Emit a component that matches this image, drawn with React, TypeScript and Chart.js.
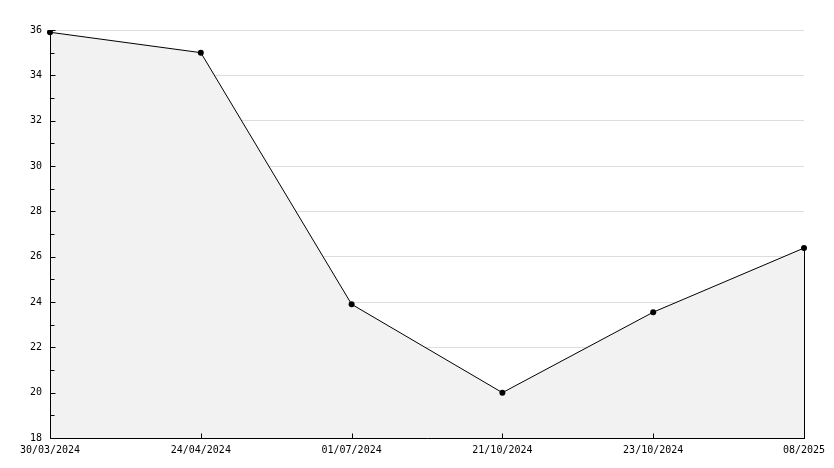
import React, { useEffect, useRef } from "react";
import { Chart, registerables } from "chart.js";

Chart.register(...registerables);

const categories: string[] = ["30/03/2024", "24/04/2024", "01/07/2024", "21/10/2024", "23/10/2024", "08/2025"];
const values: number[] = [35.9, 35.0, 23.9, 20.0, 23.55, 26.38];
const yMin = 18;
const yMax = 36;
const yStep = 2;

const FONT = "'DejaVu Sans Mono', monospace";

const extras = {
  id: "extras",
  afterDatasetsDraw(chart: any) {
    const ctx = chart.ctx;
    const area = chart.chartArea;
    const y = chart.scales.y;
    const x = chart.scales.x;
    const meta = chart.getDatasetMeta(0);
    ctx.save();
    ctx.strokeStyle = "#000";
    ctx.lineWidth = 1;
    const left = Math.round(area.left) + 0.5;
    const bottom = Math.round(area.bottom) + 0.5;
    // axis lines
    ctx.beginPath();
    ctx.moveTo(left, Math.round(area.top));
    ctx.lineTo(left, bottom);
    ctx.lineTo(Math.round(area.right) + 1, bottom);
    ctx.stroke();
    // vertical edge of fill at last point
    const last = meta.data[meta.data.length - 1];
    if (last) {
      const lx = Math.round(last.x) + 0.5;
      ctx.beginPath();
      ctx.moveTo(lx, last.y);
      ctx.lineTo(lx, bottom);
      ctx.stroke();
    }
    // inner ticks on y axis (major and minor)
    for (let v = yMin; v <= yMax; v += 1) {
      const py = Math.round(y.getPixelForValue(v)) + 0.5;
      const len = (v - yMin) % yStep === 0 ? 5 : 4;
      ctx.beginPath();
      ctx.moveTo(left, py);
      ctx.lineTo(left + len, py);
      ctx.stroke();
    }
    // inner ticks on x axis
    for (let i = 0; i < categories.length; i++) {
      const px = Math.round(x.getPixelForValue(i)) + 0.5;
      ctx.beginPath();
      ctx.moveTo(px, bottom);
      ctx.lineTo(px, bottom - 5);
      ctx.stroke();
    }
    ctx.restore();
  },
};

export default function App() {
  const ref = useRef<HTMLCanvasElement | null>(null);
  useEffect(() => {
    document.body.style.margin = "0";
    const canvas = ref.current;
    if (!canvas) return;
    const chart = new Chart(canvas, {
      type: "line",
      data: {
        labels: categories,
        datasets: [
          {
            data: values,
            borderColor: "#000",
            borderWidth: 1,
            backgroundColor: "#f2f2f2",
            fill: "start",
            tension: 0,
            pointRadius: 3,
            pointBackgroundColor: "#000",
            pointBorderColor: "#000",
            pointBorderWidth: 0,
          },
        ],
      },
      options: {
        responsive: false,
        animation: false,
        devicePixelRatio: 1,
        layout: { padding: { left: 0, top: 30, right: 30, bottom: 0 } },
        plugins: { legend: { display: false }, tooltip: { enabled: false }, title: { display: false } },
        scales: {
          x: {
            type: "category",
            offset: false,
            grid: { display: false, drawTicks: false },
            border: { display: false },
            ticks: {
              color: "#000",
              font: { family: FONT, size: 10 },
              maxRotation: 0,
              autoSkip: false,
              padding: 6,
            },
            afterFit(scale: any) {
              scale.height = 30;
            },
          },
          y: {
            min: yMin,
            max: yMax,
            grid: { color: "#dddddd", lineWidth: 1, drawTicks: false },
            border: { display: false },
            ticks: {
              stepSize: yStep,
              color: "#000",
              font: { family: FONT, size: 10 },
              padding: 8,
            },
            afterFit(scale: any) {
              scale.width = 50;
            },
          },
        },
      },
      plugins: [extras],
    });
    return () => chart.destroy();
  }, []);
  return (
    <div style={{ position: "absolute", left: 0, top: 0, width: 834, height: 468, background: "#fff" }}>
      <canvas ref={ref} width={834} height={468} />
    </div>
  );
}
